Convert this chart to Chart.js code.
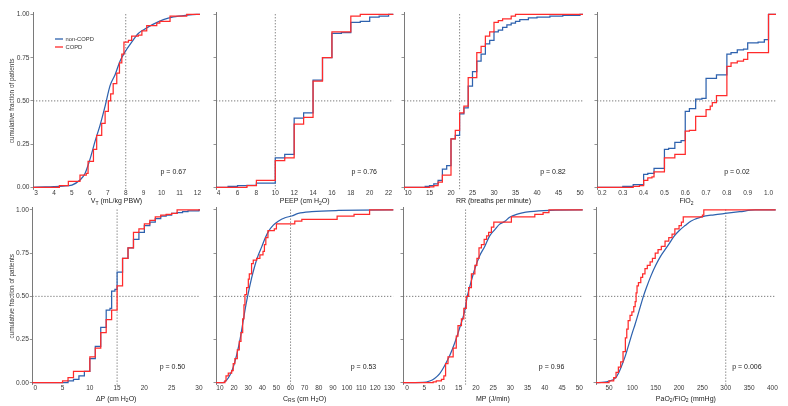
<!DOCTYPE html>
<html>
<head>
<meta charset="utf-8">
<script src="https://cdn.jsdelivr.net/npm/chart.js@4.4.1/dist/chart.umd.min.js"></script>
<style>
  html, body { margin: 0; padding: 0; background: #fff; }
  #wrap { position: relative; width: 788px; height: 406px; overflow: hidden; background: #fff; }
  #wrap canvas { position: absolute; }
</style>
</head>
<body>
<div id="wrap"></div>
<script>
// ---- data ----
const seriesNames = ['non-COPD', 'COPD'];
const pValues = ['p = 0.67', 'p = 0.76', 'p = 0.82', 'p = 0.02', 'p = 0.50', 'p = 0.53', 'p = 0.96', 'p = 0.006'];
const refLinesX = [8, 10, 22, null, 15, 60, 17, 300];
const yTicks = [0, 0.25, 0.5, 0.75, 1];

// VT
const vtTicks = [3, 4, 5, 6, 7, 8, 9, 10, 11, 12];
const vtNonX = [2.8, 3.5, 4.0, 4.5, 5.0, 5.45, 5.73, 6.0, 6.3, 6.57, 6.85, 7.13, 7.4, 7.68, 8.0, 8.33, 8.7, 8.98, 9.54, 10.1, 10.66, 11.4, 11.96, 12.3];
const vtNonF = [0, 0.002, 0.004, 0.007, 0.013, 0.042, 0.08, 0.16, 0.27, 0.36, 0.47, 0.59, 0.65, 0.73, 0.79, 0.84, 0.89, 0.91, 0.944, 0.97, 0.986, 0.996, 1.0, 1.0];
const vtCopdX = [2.8, 4.3, 4.8, 5.45, 5.8, 5.9, 6.2, 6.38, 6.66, 6.85, 7.03, 7.16, 7.3, 7.5, 7.65, 7.78, 7.9, 8.15, 8.33, 8.7, 8.9, 9.17, 9.73, 9.9, 10.47, 11.4, 12.3];
const vtCopdF = [0, 0.01, 0.035, 0.07, 0.08, 0.15, 0.22, 0.30, 0.37, 0.44, 0.50, 0.54, 0.60, 0.66, 0.72, 0.77, 0.84, 0.85, 0.875, 0.88, 0.905, 0.935, 0.95, 0.96, 0.99, 1.0, 1.0];

// PEEP
const peepTicks = [4, 6, 8, 10, 12, 14, 16, 18, 20, 22];
const peepNonX = [3, 5, 6, 7, 8, 10, 11, 12, 13, 14, 15, 16, 17, 18, 19, 20, 21, 22, 23];
const peepNonF = [0, 0.005, 0.01, 0.012, 0.025, 0.17, 0.19, 0.40, 0.43, 0.62, 0.75, 0.89, 0.895, 0.955, 0.96, 0.985, 0.99, 1.0, 1.0];
const peepCopdX = [3, 7, 8, 10, 11, 12, 13, 14, 15, 16, 18, 19, 23];
const peepCopdF = [0, 0.01, 0.04, 0.155, 0.17, 0.365, 0.405, 0.615, 0.75, 0.90, 0.99, 1.0, 1.0];

// RR
const rrTicks = [10, 15, 20, 25, 30, 35, 40, 45, 50];
const rrNonX = [9, 14, 15, 16, 17, 18, 19, 20, 21, 22, 23, 24, 25, 26, 27, 28, 29, 30, 31, 32, 33, 34, 35, 36, 38, 40, 43, 46, 50, 51];
const rrNonF = [0, 0.005, 0.01, 0.02, 0.04, 0.105, 0.125, 0.28, 0.30, 0.425, 0.46, 0.585, 0.67, 0.73, 0.77, 0.83, 0.85, 0.90, 0.91, 0.925, 0.94, 0.95, 0.96, 0.97, 0.98, 0.985, 0.99, 0.995, 1.0, 1.0];
const rrCopdX = [9, 15, 16, 17, 18, 20, 21, 22, 23, 24, 26, 27, 28, 29, 30, 31, 32, 34, 35, 51];
const rrCopdF = [0, 0.003, 0.01, 0.03, 0.07, 0.28, 0.33, 0.43, 0.47, 0.635, 0.78, 0.815, 0.875, 0.90, 0.955, 0.965, 0.975, 0.99, 1.0, 1.0];

// FiO2
const fio2Ticks = [0.2, 0.3, 0.4, 0.5, 0.6, 0.7, 0.8, 0.9, 1.0];
const fio2NonX = [0.15, 0.30, 0.35, 0.40, 0.42, 0.45, 0.50, 0.52, 0.55, 0.58, 0.60, 0.62, 0.65, 0.68, 0.70, 0.75, 0.80, 0.82, 0.85, 0.88, 0.90, 0.95, 0.98, 1.0, 1.05];
const fio2NonF = [0, 0.005, 0.015, 0.075, 0.08, 0.11, 0.22, 0.225, 0.26, 0.27, 0.44, 0.455, 0.51, 0.515, 0.63, 0.65, 0.77, 0.78, 0.795, 0.80, 0.835, 0.84, 0.855, 1.0, 1.0];
const fio2CopdX = [0.15, 0.35, 0.38, 0.40, 0.42, 0.44, 0.45, 0.50, 0.55, 0.60, 0.62, 0.65, 0.70, 0.72, 0.73, 0.75, 0.80, 0.82, 0.85, 0.88, 0.90, 1.0, 1.05];
const fio2CopdF = [0, 0.005, 0.01, 0.04, 0.055, 0.06, 0.09, 0.17, 0.19, 0.325, 0.33, 0.41, 0.45, 0.47, 0.49, 0.53, 0.70, 0.72, 0.73, 0.74, 0.78, 1.0, 1.0];

// driving pressure
const dpTicks = [0, 5, 10, 15, 20, 25, 30];
const dpNonX = [-1, 6, 7, 8, 9, 10, 11, 12, 13, 13.7, 14, 14.6, 15, 16, 17, 18, 19, 20, 21, 22, 23, 24, 25, 26, 27, 28, 30, 31];
const dpNonF = [0, 0.01, 0.02, 0.04, 0.065, 0.14, 0.21, 0.32, 0.42, 0.43, 0.53, 0.54, 0.64, 0.72, 0.78, 0.83, 0.87, 0.91, 0.93, 0.95, 0.965, 0.97, 0.98, 0.985, 0.99, 0.995, 1.0, 1.0];
const dpCopdX = [-1, 5, 6, 7, 10, 11, 12, 13, 14, 15, 16, 17, 18, 19, 20, 21, 22, 23, 24, 25, 26, 31];
const dpCopdF = [0, 0.01, 0.03, 0.065, 0.15, 0.20, 0.29, 0.365, 0.42, 0.56, 0.72, 0.78, 0.87, 0.89, 0.92, 0.94, 0.96, 0.97, 0.975, 0.98, 1.0, 1.0];

// compliance
const crsTicks = [10, 20, 30, 40, 50, 60, 70, 80, 90, 100, 110, 120, 130];
const crsNonX = [5, 12, 14.7, 17.1, 19.4, 21.8, 24.2, 26.5, 28.4, 30.1, 32.4, 34.8, 37.2, 39.5, 41.9, 44.3, 47.8, 51.3, 56.1, 60.8, 65.5, 75, 94, 130, 135];
const crsNonF = [0, 0, 0.015, 0.045, 0.09, 0.16, 0.25, 0.36, 0.45, 0.52, 0.605, 0.68, 0.74, 0.785, 0.835, 0.875, 0.912, 0.935, 0.955, 0.965, 0.98, 0.99, 0.997, 1.0, 1.0];
const crsCopdX = [5, 13.5, 14.3, 15.9, 18.3, 19.4, 20.6, 22.3, 23.7, 24.9, 26.1, 27, 27.7, 28.9, 30.1, 30.8, 32.4, 33.6, 36, 38.3, 40.5, 41.5, 42.5, 44, 48.5, 50, 63, 68, 93, 105, 116, 135];
const crsCopdF = [0, 0.01, 0.04, 0.055, 0.07, 0.11, 0.14, 0.19, 0.24, 0.29, 0.37, 0.45, 0.51, 0.55, 0.60, 0.63, 0.69, 0.71, 0.72, 0.74, 0.76, 0.80, 0.84, 0.88, 0.89, 0.92, 0.935, 0.945, 0.965, 0.975, 1.0, 1.0];

// mechanical power
const mpTicks = [0, 5, 10, 15, 20, 25, 30, 35, 40, 45, 50];
const mpNonX = [-2, 4.65, 6.6, 8.0, 9.5, 10.95, 12.4, 13.9, 15.3, 16.8, 17.4, 18.2, 19.7, 21.1, 22.6, 24.0, 25.5, 26.9, 28.4, 29.8, 31.8, 35.7, 41.5, 50, 52];
const mpNonF = [0, 0.002, 0.01, 0.025, 0.053, 0.10, 0.157, 0.233, 0.318, 0.42, 0.49, 0.555, 0.66, 0.735, 0.79, 0.85, 0.886, 0.918, 0.934, 0.958, 0.975, 0.99, 0.998, 1.0, 1.0];
const mpCopdX = [-2, 7.6, 8.5, 10, 10.7, 11.2, 11.9, 13.4, 14.3, 14.8, 15.8, 16.5, 17.2, 17.9, 18.7, 19.7, 20.3, 20.9, 21.6, 22.4, 23.1, 23.7, 24.5, 25.2, 30.3, 37.1, 39.5, 41.2, 52];
const mpCopdF = [0, 0.005, 0.01, 0.02, 0.04, 0.11, 0.15, 0.20, 0.27, 0.33, 0.37, 0.43, 0.50, 0.55, 0.63, 0.68, 0.72, 0.78, 0.80, 0.83, 0.85, 0.87, 0.90, 0.93, 0.96, 0.975, 0.985, 1.0, 1.0];

// PaO2/FiO2
const pfTicks = [50, 100, 150, 200, 250, 300, 350, 400];
const pfNonX = [20, 40, 50, 63, 70, 84, 90, 100, 105.7, 110, 123.6, 130, 140, 150, 160, 170, 180, 190, 200, 213, 225, 248.6, 275, 298.6, 330, 363, 410];
const pfNonF = [0, 0.003, 0.01, 0.025, 0.053, 0.148, 0.2, 0.29, 0.337, 0.375, 0.5, 0.55, 0.62, 0.68, 0.73, 0.77, 0.81, 0.85, 0.88, 0.91, 0.935, 0.96, 0.972, 0.98, 0.99, 1.0, 1.0];
const pfCopdX = [20, 50, 60, 65, 70, 75, 80, 85, 88, 91, 95, 99, 103, 106, 108, 110, 113, 118, 122, 127, 132, 138, 143, 149, 155, 162, 170, 178, 185, 191, 200, 205, 209, 250, 253, 410];
const pfCopdF = [0, 0.01, 0.03, 0.06, 0.09, 0.12, 0.18, 0.26, 0.31, 0.36, 0.39, 0.41, 0.44, 0.47, 0.52, 0.56, 0.58, 0.61, 0.63, 0.66, 0.68, 0.70, 0.72, 0.75, 0.77, 0.79, 0.82, 0.84, 0.86, 0.89, 0.91, 0.93, 0.96, 0.97, 1.0, 1.0];

// ---- layout ----
const BLUE = '#2e62ae', RED = '#ff2b2b', AXIS = '#7a7a7a', TXT = '#222';
const FONT = '"Liberation Sans", Arial, sans-serif';
const ROWS = [
  { t: 12.4, b: 189.4, top: 0, h: 207, ty: 203.2 },
  { t: 207.9, b: 384.8, top: 200, h: 206, ty: 400.5 }
];

const panels = [
  { row: 0, l: 33, r: 200, min: 2.83, max: 12.14, ticks: vtTicks, dec: 0, non: [vtNonX, vtNonF], copd: [vtCopdX, vtCopdF], smooth: true, yLabels: true, legend: true, pFrac: 0.84,
    title: [['V', 0], ['T', 1], [' (mL/kg PBW)', 0]] },
  { row: 0, l: 215.7, r: 393, min: 3.72, max: 22.5, ticks: peepTicks, dec: 0, non: [peepNonX, peepNonF], copd: [peepCopdX, peepCopdF], pFrac: 0.836,
    title: [['PEEP (cm H', 0], ['2', 1], ['O)', 0]] },
  { row: 0, l: 404, r: 583, min: 9.07, max: 50.7, ticks: rrTicks, dec: 0, non: [rrNonX, rrNonF], copd: [rrCopdX, rrCopdF], pFrac: 0.832,
    title: [['RR (breaths per minute)', 0]] },
  { row: 0, l: 596.7, r: 775.7, min: 0.176, max: 1.036, ticks: fio2Ticks, dec: 1, non: [fio2NonX, fio2NonF], copd: [fio2CopdX, fio2CopdF], pFrac: 0.782,
    title: [['FiO', 0], ['2', 1]] },
  { row: 1, l: 32.3, r: 200, min: -0.55, max: 30.2, ticks: dpTicks, dec: 0, non: [dpNonX, dpNonF], copd: [dpCopdX, dpCopdF], yLabels: true, pFrac: 0.836,
    title: [['\u0394P (cm H', 0], ['2', 1], ['O)', 0]] },
  { row: 1, l: 215.7, r: 393, min: 7.2, max: 132.8, ticks: crsTicks, dec: 0, non: [crsNonX, crsNonF], copd: [crsCopdX, crsCopdF], smooth: true, pFrac: 0.832,
    title: [['C', 0], ['RS', 1], [' (cm H', 0], ['2', 1], ['O)', 0]] },
  { row: 1, l: 403.3, r: 583, min: -1.16, max: 51, ticks: mpTicks, dec: 0, non: [mpNonX, mpNonF], copd: [mpCopdX, mpCopdF], smooth: true, pFrac: 0.827,
    title: [['MP (J/min)', 0]] },
  { row: 1, l: 596, r: 775.7, min: 22.1, max: 407, ticks: pfTicks, dec: 0, non: [pfNonX, pfNonF], copd: [pfCopdX, pfCopdF], smooth: true, pFrac: 0.84,
    title: [['PaO', 0], ['2', 1], ['/FiO', 0], ['2', 1], [' (mmHg)', 0]] }
];

const pts = (xs, ys) => xs.map((x, i) => ({ x: x, y: ys[i] }));

const textPlugin = {
  id: 'panelText',
  afterDraw(chart, args, o) {
    const ctx = chart.ctx, a = chart.chartArea;
    ctx.save();
    ctx.fillStyle = TXT;
    // axis title with subscripts
    const fs = 7, sub = 5;
    let w = 0;
    o.title.forEach(p => { ctx.font = (p[1] ? sub : fs) + 'px ' + FONT; w += ctx.measureText(p[0]).width; });
    let x = (a.left + a.right) / 2 - w / 2;
    ctx.textBaseline = 'alphabetic';
    ctx.textAlign = 'left';
    o.title.forEach(p => {
      ctx.font = (p[1] ? sub : fs) + 'px ' + FONT;
      ctx.fillText(p[0], x, o.titleY + (p[1] ? 1.5 : 0));
      x += ctx.measureText(p[0]).width;
    });
    // p value
    ctx.font = '7px ' + FONT;
    ctx.textAlign = 'center';
    ctx.textBaseline = 'middle';
    ctx.fillText(o.p, a.left + o.pFrac * (a.right - a.left), chart.scales.y.getPixelForValue(0.09));
    // legend
    if (o.legend) {
      const ys = [39, 47];
      const cols = [BLUE, RED];
      ctx.font = '5.8px ' + FONT;
      ctx.textAlign = 'left';
      seriesNames.forEach((n, i) => {
        ctx.strokeStyle = cols[i];
        ctx.lineWidth = 1.3;
        ctx.beginPath();
        ctx.moveTo(55, ys[i]);
        ctx.lineTo(63, ys[i]);
        ctx.stroke();
        ctx.fillStyle = '#333';
        ctx.fillText(n, 65.5, ys[i]);
      });
    }
    ctx.restore();
  }
};

const wrap = document.getElementById('wrap');

panels.forEach((p, k) => {
  const row = ROWS[p.row];
  const left0 = p.yLabels ? 0 : p.l - 4;
  const width = Math.ceil(p.r + 9 - left0);
  const height = row.h;
  const cv = document.createElement('canvas');
  cv.width = width;
  cv.height = height;
  cv.style.left = left0 + 'px';
  cv.style.top = row.top + 'px';
  wrap.appendChild(cv);

  const dotted = { borderColor: '#6d6d6d', borderWidth: 0.9, borderDash: [1.3, 1.7], pointRadius: 0, order: 3, stepped: false };
  const datasets = [
    Object.assign({ data: [{ x: p.min, y: 0.5 }, { x: p.max, y: 0.5 }] }, dotted)
  ];
  if (refLinesX[k] !== null) {
    datasets.push(Object.assign({ data: [{ x: refLinesX[k], y: -0.012 }, { x: refLinesX[k], y: 1.012 }] }, dotted));
  }
  datasets.push({
    label: seriesNames[0], data: pts(p.non[0], p.non[1]), borderColor: BLUE, borderWidth: 1.25,
    pointRadius: 0, order: 1, stepped: p.smooth ? false : 'before',
    cubicInterpolationMode: p.smooth ? 'monotone' : 'default'
  });
  datasets.push({
    label: seriesNames[1], data: pts(p.copd[0], p.copd[1]), borderColor: RED, borderWidth: 1.25,
    pointRadius: 0, order: 0, stepped: 'before'
  });

  new Chart(cv, {
    type: 'line',
    data: { datasets: datasets },
    plugins: [textPlugin],
    options: {
      responsive: false,
      animation: false,
      devicePixelRatio: 1,
      events: [],
      layout: { padding: { top: row.t - row.top, right: width - (p.r - left0), bottom: 0, left: 0 } },
      plugins: {
        legend: { display: false },
        tooltip: { enabled: false },
        panelText: { title: p.title, titleY: row.ty - row.top, p: pValues[k], pFrac: p.pFrac, legend: !!p.legend }
      },
      scales: {
        x: {
          type: 'linear', min: p.min, max: p.max,
          grid: { display: false, drawTicks: false },
          border: { display: false },
          ticks: {
            autoSkip: false, maxRotation: 0, padding: 0, color: '#3a3a3a',
            font: { family: FONT, size: 6.5 },
            callback: v => p.dec ? Number(v).toFixed(p.dec) : String(v)
          },
          afterBuildTicks: s => { s.ticks = p.ticks.map(v => ({ value: v })); },
          afterFit: s => { s.height = height - (row.b - row.top); }
        },
        y: {
          type: 'linear', min: -0.012, max: 1.012,
          grid: { drawOnChartArea: false, drawTicks: true, tickLength: 2.5, color: AXIS, lineWidth: 0.8 },
          border: { display: true, color: AXIS, width: 1 },
          ticks: {
            padding: 1, color: '#3a3a3a',
            font: { family: FONT, size: 6.6 },
            callback: v => p.yLabels ? Number(v).toFixed(2) : ''
          },
          title: {
            display: !!p.yLabels, text: 'cumulative fraction of patients',
            color: '#333', font: { family: FONT, size: 6.4 }, padding: { top: 8, bottom: 0 }
          },
          afterBuildTicks: s => { s.ticks = yTicks.map(v => ({ value: v })); },
          afterFit: s => { s.width = p.l - left0; }
        }
      }
    }
  });
});
</script>
</body>
</html>
